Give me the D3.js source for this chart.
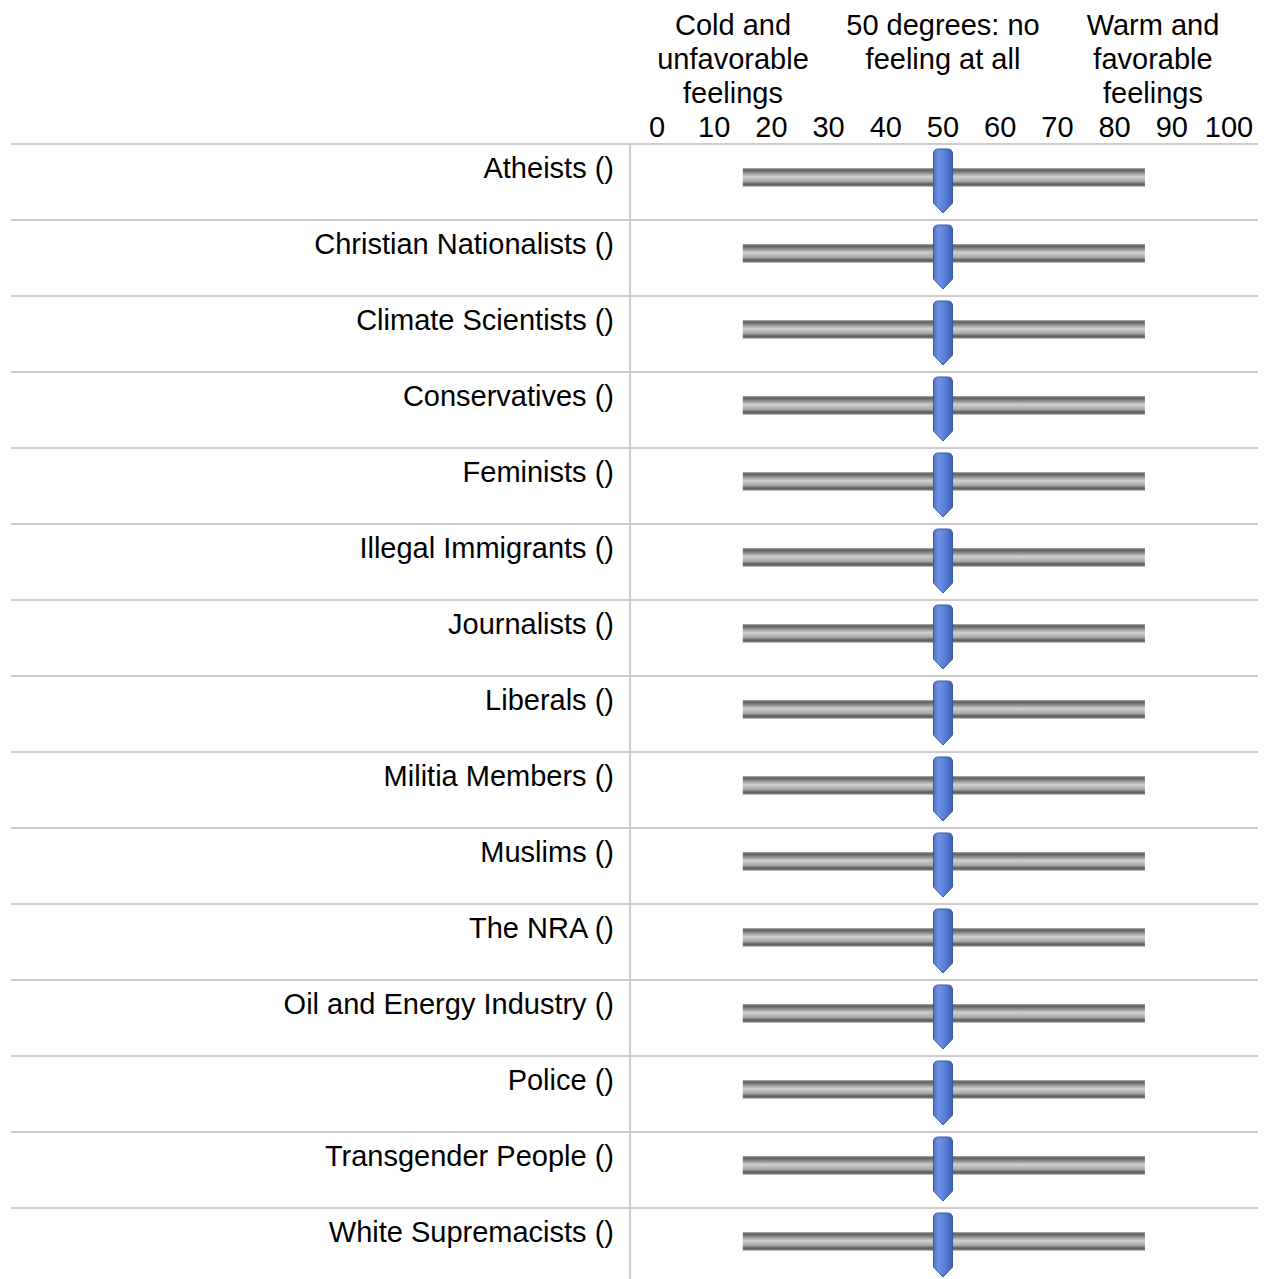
<!DOCTYPE html>
<html>
<head>
<meta charset="utf-8">
<script src="https://cdn.jsdelivr.net/npm/d3@7"></script>
<style>
html,body{margin:0;padding:0;background:#fff;}
svg{display:block;font-family:"Liberation Sans",Arial,sans-serif;}
</style>
</head>
<body>
<svg id="chart" width="1265" height="1279"></svg>
<script>
const categories = ["Atheists ()","Christian Nationalists ()","Climate Scientists ()","Conservatives ()","Feminists ()","Illegal Immigrants ()","Journalists ()","Liberals ()","Militia Members ()","Muslims ()","The NRA ()","Oil and Energy Industry ()","Police ()","Transgender People ()","White Supremacists ()"];
const values = [50,50,50,50,50,50,50,50,50,50,50,50,50,50,50];
const tickValues = [0,10,20,30,40,50,60,70,80,90,100];
const headerLabels = [["Cold and","unfavorable","feelings"],["50 degrees: no","feeling at all"],["Warm and","favorable","feelings"]];
const trackRange = [15,85.3];

const svg = d3.select("#chart");
const W = 1265, H = 1279;
const rowH = 76, top0 = 143, fs = 29;
const x = d3.scaleLinear().domain([0,100]).range([657,1229]);
const y = d3.scaleBand().domain(categories).range([top0, top0 + rowH*categories.length]).padding(0);
const hdr = d3.scaleBand().domain(d3.range(headerLabels.length)).range([628,1258]);

const defs = svg.append("defs");
const tg = defs.append("linearGradient").attr("id","trackG").attr("x1",0).attr("y1",0).attr("x2",0).attr("y2",1);
[[0,"#b4b4b4"],[0.1,"#5c5c5c"],[0.25,"#8a8a8a"],[0.45,"#cfcfcf"],[0.7,"#a9a9a9"],[0.82,"#6a6a6a"],[0.9,"#5a5a5a"],[1,"#d9d9d9"]].forEach(s=>tg.append("stop").attr("offset",s[0]).attr("stop-color",s[1]));
const hg = defs.append("linearGradient").attr("id","handleG").attr("x1",0).attr("y1",0).attr("x2",1).attr("y2",0);
[[0,"#4e6fc4"],[0.25,"#6f92e6"],[0.6,"#5a7fd6"],[1,"#3d5fb4"]].forEach(s=>hg.append("stop").attr("offset",s[0]).attr("stop-color",s[1]));

// header
const hG = svg.append("g");
headerLabels.forEach((lines,i)=>{
  lines.forEach((t,j)=>{
    hG.append("text").attr("x", hdr(i)+hdr.bandwidth()/2).attr("y", 35 + j*34)
      .attr("text-anchor","middle").attr("font-size",fs).attr("fill","#000").text(t);
  });
});
hG.selectAll("text.tick").data(tickValues).join("text").attr("class","tick")
  .attr("x", d=>x(d)).attr("y",137).attr("text-anchor","middle").attr("font-size",fs).attr("fill","#000").text(d=>d);

// grid lines
svg.selectAll("line.h").data(categories).join("line").attr("class","h")
  .attr("x1",11).attr("x2",1258).attr("y1",d=>y(d)+1).attr("y2",d=>y(d)+1)
  .attr("stroke","#cdcdcd").attr("stroke-width",2);
svg.append("line").attr("x1",630).attr("x2",630).attr("y1",top0).attr("y2",H)
  .attr("stroke","#cdcdcd").attr("stroke-width",2);

// rows
const rows = svg.selectAll("g.row").data(categories.map((c,i)=>({c,v:values[i]}))).join("g").attr("class","row")
  .attr("transform", d=>`translate(0,${y(d.c)})`);
rows.append("text").attr("x",614).attr("y",35).attr("text-anchor","end").attr("font-size",fs).attr("fill","#000").text(d=>d.c);
rows.append("rect").attr("x",x(trackRange[0])).attr("width",x(trackRange[1])-x(trackRange[0]))
  .attr("y",25).attr("height",19).attr("fill","url(#trackG)");
rows.append("path").attr("d", d=>{
  const cx = x(d.v), w = 19, l = cx - w/2, r = cx + w/2, t = 6, b = 60, tip = 70, rr = 5;
  return `M${l},${t+rr} Q${l},${t} ${l+rr},${t} L${r-rr},${t} Q${r},${t} ${r},${t+rr} L${r},${b} L${cx},${tip} L${l},${b} Z`;
}).attr("fill","url(#handleG)").attr("stroke","#3a58a6").attr("stroke-width",1);
</script>
</body>
</html>
